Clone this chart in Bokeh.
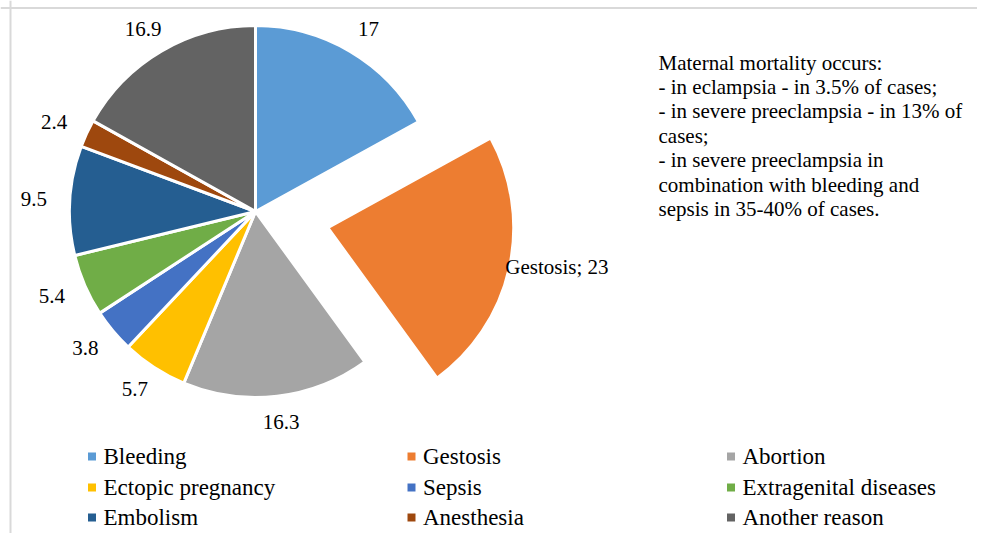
import math
from bokeh.plotting import figure
from bokeh.models import Range1d, ColumnDataSource, Span
from bokeh.core.properties import value
from bokeh.embed import file_html
from bokeh.resources import INLINE

# ---- data ----
categories = ["Bleeding", "Gestosis", "Abortion", "Ectopic pregnancy", "Sepsis",
              "Extragenital diseases", "Embolism", "Anesthesia", "Another reason"]
values = [17, 23, 16.3, 5.7, 3.8, 5.4, 9.5, 2.4, 16.9]
colors = ["#5B9BD5", "#ED7D31", "#A5A5A5", "#FFC000", "#4472C4",
          "#70AD47", "#255E91", "#9E480E", "#636363"]
note_lines = [
    "Maternal mortality occurs:",
    "- in eclampsia - in 3.5% of cases;",
    "- in severe preeclampsia - in 13% of",
    "cases;",
    "- in severe preeclampsia in",
    "combination with bleeding and",
    "sepsis in 35-40% of cases.",
]
exploded = "Gestosis"

# ---- layout ----
W, H = 977, 533
FONT = "Liberation Serif"


def Y(page_y):
    return H - page_y


p = figure(width=W, height=H, x_range=Range1d(0, W), y_range=Range1d(0, H),
           output_backend="svg", toolbar_location=None, min_border=0)
p.axis.visible = False
p.grid.visible = False
p.outline_line_color = None
p.background_fill_color = "white"
p.border_fill_color = "white"

cx, cy = 255, Y(211)
R = 186
explode_d = 74
label_rx, label_ry = 222, 212

total = sum(values)
xs, ys, starts, ends = [], [], [], []
lab_x, lab_y, lab_t = [], [], []
gx = gy = None
cum = 0.0
for cat, v in zip(categories, values):
    f0 = cum / total
    f1 = (cum + v) / total
    cum += v
    a_start = math.pi / 2 - 2 * math.pi * f1
    a_end = math.pi / 2 - 2 * math.pi * f0
    mid = (a_start + a_end) / 2
    dx, dy = math.cos(mid), math.sin(mid)
    if cat == exploded:
        ox, oy = cx + explode_d * dx, cy + explode_d * dy
        gx, gy = ox + 182 * dx, oy + 182 * dy
        glabel = f"{cat}; {v:g}"
    else:
        ox, oy = cx, cy
        lab_x.append(cx + label_rx * dx)
        lab_y.append(cy + label_ry * dy)
        lab_t.append(f"{v:g}")
    xs.append(ox)
    ys.append(oy)
    starts.append(a_start)
    ends.append(a_end)

src = ColumnDataSource(dict(x=xs, y=ys, start=starts, end=ends, color=colors, cat=categories))
p.wedge(x="x", y="y", radius=R, start_angle="start", end_angle="end",
        fill_color="color", line_color="white", line_width=3, source=src)

p.text(x=lab_x, y=lab_y, text=lab_t, text_font=value(FONT), text_font_size="21px",
       text_align="center", text_baseline="middle", text_color="#000000")
p.text(x=[gx], y=[gy], text=[glabel], text_font=value(FONT), text_font_size="21px",
       text_align="left", text_baseline="middle", text_color="#000000")

# annotation text
p.text(x=[658] * len(note_lines), y=[Y(62 + 24.4 * i) for i in range(len(note_lines))],
       text=note_lines, text_font=value(FONT), text_font_size="21px",
       text_align="left", text_baseline="middle", text_color="#000000")

# legend (3 columns)
col_x = [91.5, 411, 730.5]
row_y = [456, 487, 517]
mx = [col_x[i % 3] for i in range(len(categories))]
my = [Y(row_y[i // 3]) for i in range(len(categories))]
p.scatter(x=mx, y=my, marker="square", size=8, fill_color=colors, line_color=None)
p.text(x=[m + 11.5 for m in mx], y=my, text=categories, text_font=value(FONT),
       text_font_size="23px", text_align="left", text_baseline="middle", text_color="#000000")

# frame lines (top and left)
p.add_layout(Span(location=Y(7.5), dimension="width", line_color="#d9d9d9", line_width=2))
p.add_layout(Span(location=10, dimension="height", line_color="#d9d9d9", line_width=2))

open("out.html", "w").write(file_html(p, INLINE))
